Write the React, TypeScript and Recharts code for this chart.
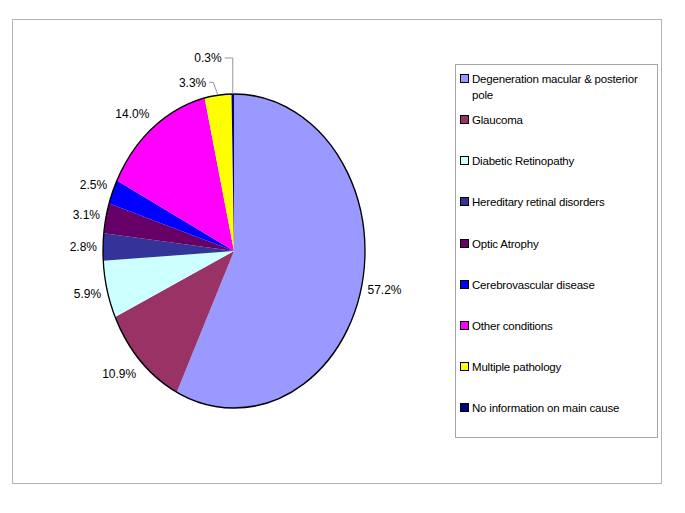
import { PieChart, Pie, Cell } from 'recharts'

const CAUSES = [
  'Degeneration macular & posterior pole',
  'Glaucoma',
  'Diabetic Retinopathy',
  'Hereditary retinal disorders',
  'Optic Atrophy',
  'Cerebrovascular disease',
  'Other conditions',
  'Multiple pathology',
  'No information on main cause',
]
const SHARES = [57.2, 10.9, 5.9, 2.8, 3.1, 2.5, 14.0, 3.3, 0.3]
const COLORS = ['#9999ff', '#993366', '#ccffff', '#333399', '#660066', '#0000ff', '#ff00ff', '#ffff00', '#000080']

// the two thin slices at the top had their labels dragged away by hand, with leader lines
const LABEL_NUDGE: Record<string, { dx: number; dy: number }> = {
  'Multiple pathology': { dx: -11, dy: 5 },
  'No information on main cause': { dx: -11, dy: -18 },
}

const FONT = '"Liberation Sans", Arial, sans-serif'

// pie is drawn as a circle and then squeezed sideways to get the ellipse of the original
const SQUEEZE = 131 / 157
const CX = 234
const CY = 251
const RADIUS = 157
const CHART_W = 560
const CHART_H = 513

const data = CAUSES.map((name, i) => ({ name, value: SHARES[i] }))

const renderLabel = (p: any) => {
  const i = p.index
  const rad = (Math.PI / 180) * p.midAngle
  const s = Math.cos(rad)
  const c = Math.sin(rad)
  // everything below in screen space, converted back with / SQUEEZE
  const cxS = p.cx * SQUEEZE
  const rxS = p.outerRadius * SQUEEZE
  const edgeX = cxS + rxS * s
  const edgeY = p.cy - p.outerRadius * c
  const nudge = LABEL_NUDGE[CAUSES[i]]
  const x = cxS + (rxS + 6) * s + (nudge ? nudge.dx : 0)
  const y = p.cy - (p.outerRadius + 18) * c + (nudge ? nudge.dy : 0)
  const anchor = s >= 0 ? 'start' : 'end'

  let leader = null
  if (nudge) {
    const elbowX = edgeY - y > 20 ? edgeX : x + 7
    const pts = [
      [x + 3, y],
      [elbowX, y],
      [edgeX, edgeY],
    ]
      .map(([px, py]) => `${px / SQUEEZE},${py}`)
      .join(' ')
    leader = <polyline points={pts} fill="none" stroke="#8c8c8c" strokeWidth={1} />
  }

  return (
    <g key={`lbl-${i}`}>
      {leader}
      <text
        transform={`translate(${x / SQUEEZE} ${y}) scale(${1 / SQUEEZE} 1)`}
        textAnchor={anchor}
        dy="0.35em"
        fontSize={12}
        fontFamily={FONT}
        fill="#000"
      >
        {SHARES[i].toFixed(1)}%
      </text>
    </g>
  )
}

function Legend() {
  return (
    <div
      style={{
        position: 'absolute',
        left: 455,
        top: 64,
        width: 201,
        height: 372,
        border: '1px solid #a6a6a6',
        background: '#fff',
        fontFamily: FONT,
        fontSize: 11.5,
        letterSpacing: -0.2,
        color: '#000',
      }}
    >
      {CAUSES.map((name, i) => {
        const center = i === 0 ? 78 : 119 + (i - 1) * 41.2
        return (
          <div key={name} style={{ position: 'absolute', left: 4, top: center - 64 - 8, width: 190 }}>
            <div
              style={{
                position: 'absolute',
                left: 0,
                top: 3,
                width: 9,
                height: 9,
                boxSizing: 'border-box',
                border: '1px solid #000',
                background: COLORS[i],
              }}
            />
            <div style={{ position: 'absolute', left: 12, top: 0, width: 178, lineHeight: '16px', whiteSpace: 'normal' }}>
              {name}
            </div>
          </div>
        )
      })}
    </div>
  )
}

export default function App() {
  return (
    <div style={{ position: 'absolute', left: 0, top: 0, width: 685, height: 513, background: '#fff' }}>
      <div
        style={{
          position: 'absolute',
          left: 12,
          top: 19,
          width: 648,
          height: 463,
          border: '1px solid #b4b4b4',
        }}
      />
      <div
        style={{
          position: 'absolute',
          left: 0,
          top: 0,
          width: CHART_W,
          height: CHART_H,
          transform: `scaleX(${SQUEEZE})`,
          transformOrigin: '0 0',
        }}
      >
        <PieChart
          width={CHART_W}
          height={CHART_H}
          margin={{ top: 0, right: 0, bottom: 0, left: 0 }}
          style={{ overflow: 'visible' }}
        >
          <Pie
            data={data}
            dataKey="value"
            nameKey="name"
            cx={CX / SQUEEZE}
            cy={CY}
            outerRadius={RADIUS}
            startAngle={90}
            endAngle={-270}
            stroke="none"
            label={renderLabel}
            labelLine={false}
            isAnimationActive={false}
          >
            {data.map((d, i) => (
              <Cell key={d.name} fill={COLORS[i]} />
            ))}
          </Pie>
          {/* outline only round the outside, slices have no borders */}
          <Pie
            data={[{ name: 'outline', value: 1 }]}
            dataKey="value"
            cx={CX / SQUEEZE}
            cy={CY}
            innerRadius={RADIUS}
            outerRadius={RADIUS}
            startAngle={90}
            endAngle={-270}
            fill="none"
            stroke="#000"
            strokeWidth={1.6}
            legendType="none"
            isAnimationActive={false}
          />
        </PieChart>
      </div>
      <Legend />
    </div>
  )
}
